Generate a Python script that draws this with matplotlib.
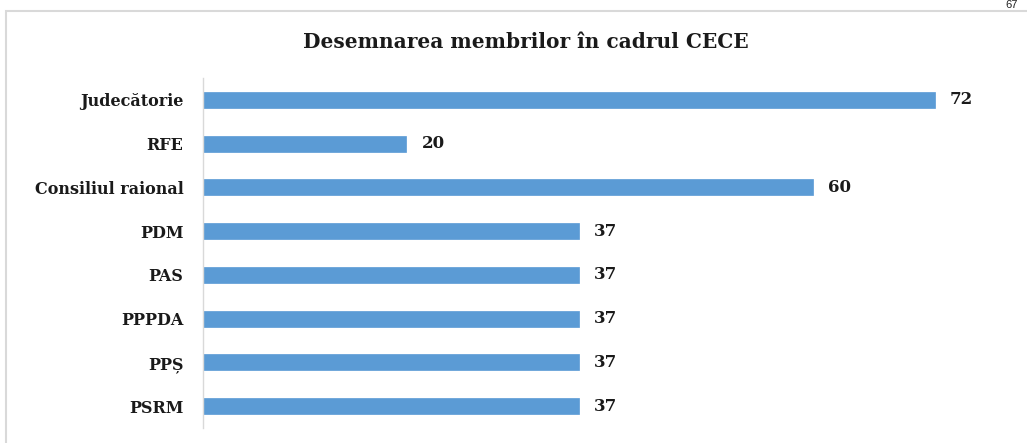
import matplotlib
matplotlib.use("Agg")
import matplotlib.pyplot as plt
from matplotlib.patches import Rectangle

categories = ["Judecătorie", "RFE", "Consiliul raional", "PDM", "PAS", "PPPDA", "PPȘ", "PSRM"]
values = [72, 20, 60, 37, 37, 37, 37, 37]
title = "Desemnarea membrilor în cadrul CECE"

W, H = 1027, 443
fig = plt.figure(figsize=(W / 100, H / 100), dpi=100)
fig.patch.set_facecolor("white")

serif = ["DejaVu Serif", "Liberation Serif"]

# chart frame (cut off to the right and bottom)
fig.patches.append(Rectangle((6 / W, -0.1), 1.2, (H - 11) / H + 0.1, transform=fig.transFigure,
                             fill=False, edgecolor="#d9d9d9", linewidth=1.5, clip_on=False))
fig.text(1012 / W, (H - 5) / H, "67", ha="center", va="center", fontsize=8,
         family=["Liberation Sans", "DejaVu Sans"], color="#222222")

ax = fig.add_axes([203 / W, (H - 428) / H, (1016 - 203) / W, (428 - 78) / H])
y = list(range(len(categories)))
ax.barh(y, values, height=0.37, color="#5b9bd5", edgecolor="#5b9bd5", linewidth=0.5)
ax.set_ylim(len(categories) - 0.5, -0.5)
ax.set_xlim(0, 80)
ax.set_yticks(y)
ax.set_yticklabels(categories, family=serif, fontweight="bold", fontsize=11.5, color="#1a1a1a")
ax.tick_params(axis="y", length=0, pad=14)
ax.set_xticks([])
for s in ["top", "right", "bottom"]:
    ax.spines[s].set_visible(False)
ax.spines["left"].set_color("#d9d9d9")
ax.spines["left"].set_linewidth(1)

for yi, v in zip(y, values):
    ax.annotate(str(v), (v, yi), xytext=(11, 0), textcoords="offset points",
                ha="left", va="center", family=serif, fontweight="bold", fontsize=12, color="#1a1a1a")

fig.text((300 + 752) / 2 / W, (H - 42) / H, title, ha="center", va="center",
         family=serif, fontweight="bold", fontsize=14.5, color="#1a1a1a")

fig.savefig("out.png", dpi=100)
